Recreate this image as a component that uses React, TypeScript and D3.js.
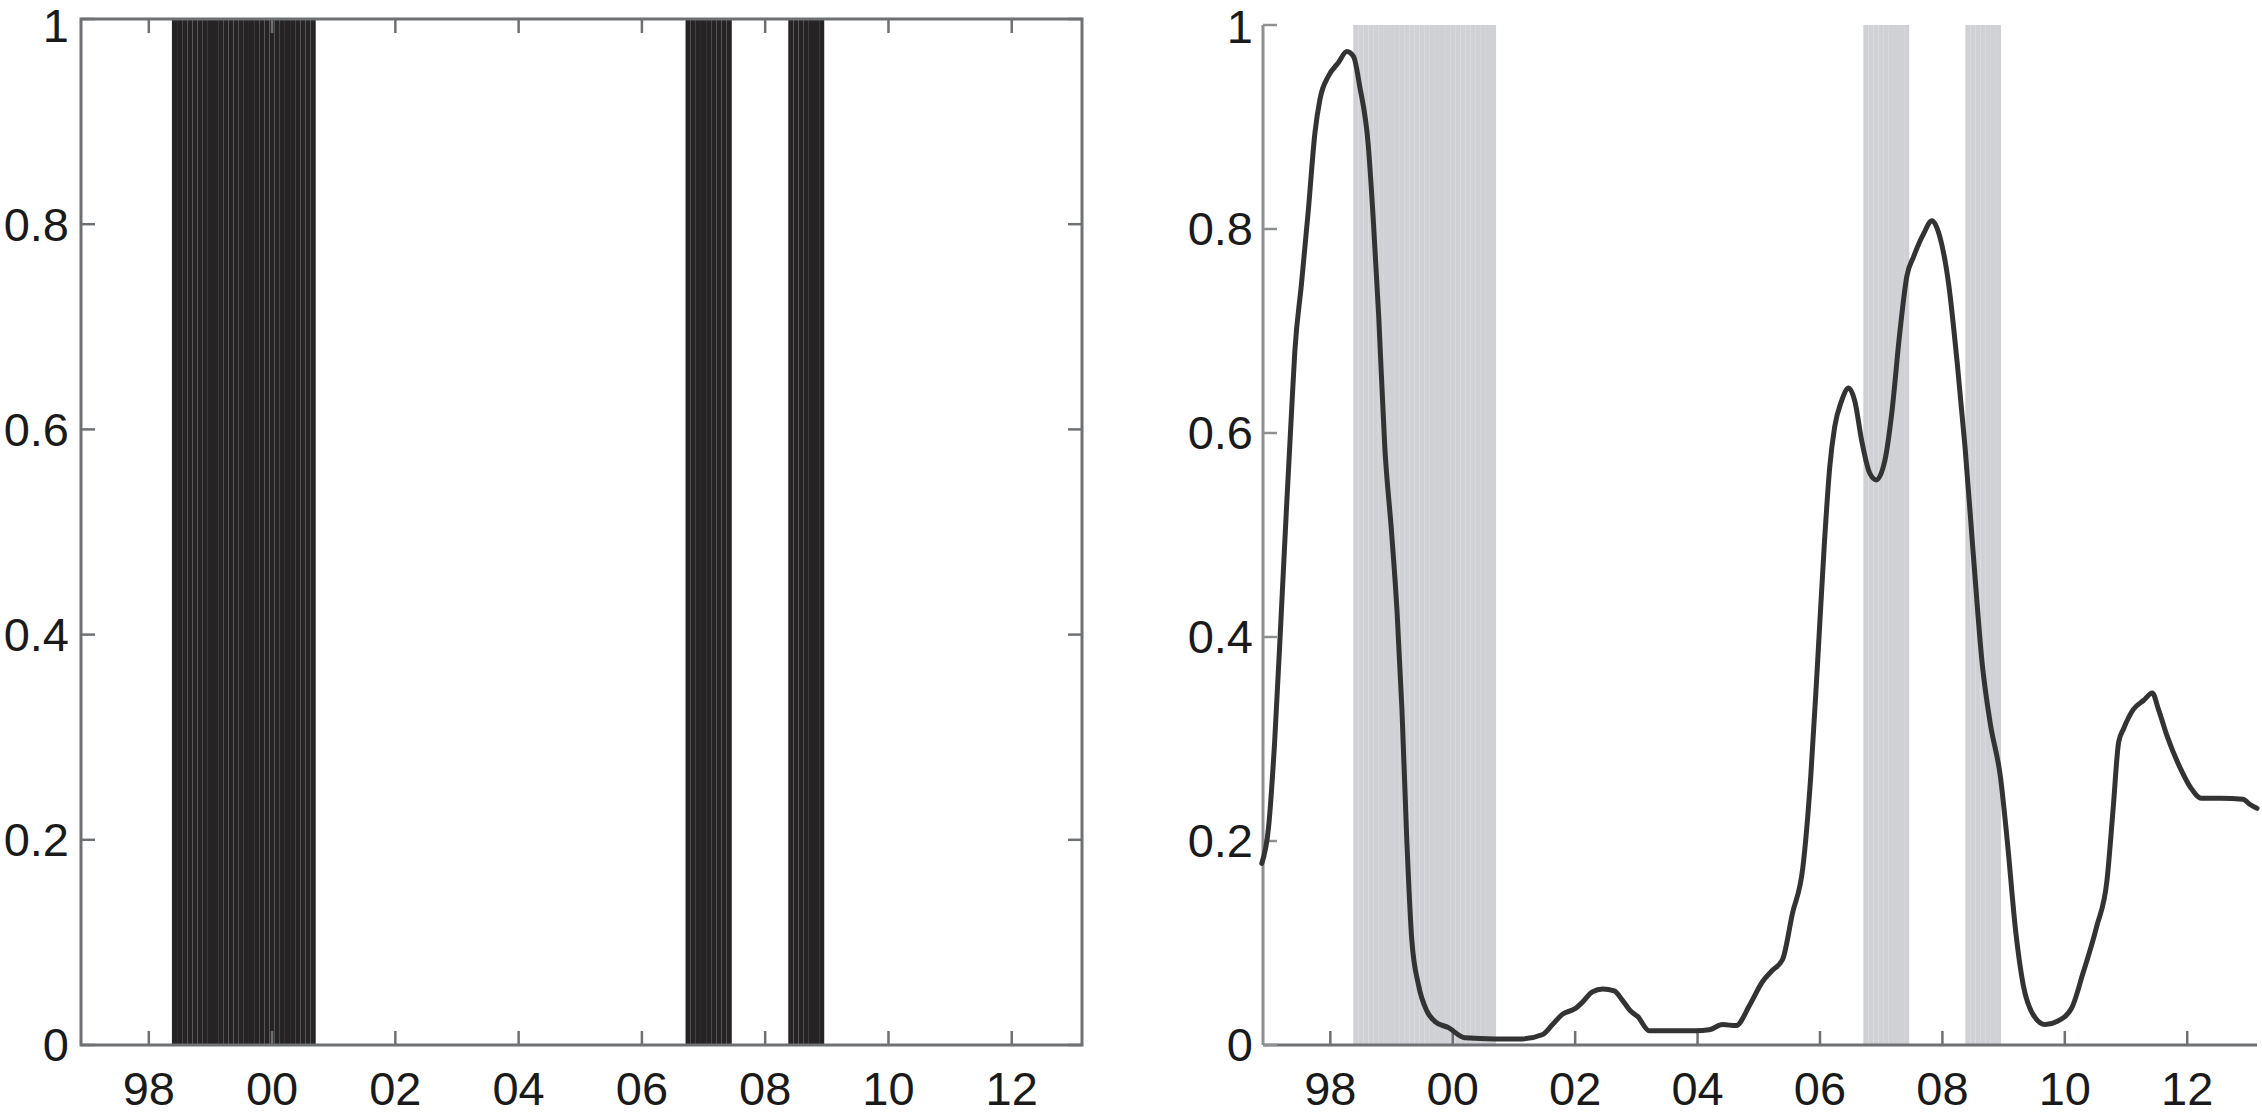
import React from "react";
import * as d3 from "d3";

// ---- data ----
const xTickYears = [1998, 2000, 2002, 2004, 2006, 2008, 2010, 2012];
const xTickLabels = ["98", "00", "02", "04", "06", "08", "10", "12"];
const yTickValues = [0, 0.2, 0.4, 0.6, 0.8, 1];
const yTickLabels = ["0", "0.2", "0.4", "0.6", "0.8", "1"];

// regime (indicator = 1) periods, in fractional years
const regimeStart = [1998.375, 2006.708, 2008.375];
const regimeEnd = [2000.708, 2007.458, 2008.958];

// smoothed probability series
const probYears = [
  1996.88, 1996.99, 1997.09, 1997.2, 1997.28, 1997.37, 1997.42, 1997.53, 1997.64, 1997.75,
  1997.83, 1997.97, 1998.13, 1998.27, 1998.38, 1998.48, 1998.62, 1998.7, 1998.79, 1998.89,
  1999.0, 1999.09, 1999.17, 1999.25, 1999.33, 1999.44, 1999.58, 1999.71, 1999.93, 2000.2,
  2000.69, 2001.13, 2001.46, 2001.63, 2001.79, 2002.01, 2002.12, 2002.28, 2002.45, 2002.64,
  2002.77, 2002.91, 2003.02, 2003.21, 2003.54, 2003.97, 2004.19, 2004.41, 2004.63, 2004.85,
  2005.06, 2005.22, 2005.39, 2005.55, 2005.72, 2005.85, 2005.96, 2006.07, 2006.16, 2006.24,
  2006.35, 2006.47, 2006.57, 2006.68, 2006.81, 2006.92, 2007.06, 2007.17, 2007.3, 2007.42,
  2007.53, 2007.69, 2007.83, 2007.96, 2008.1, 2008.24, 2008.37, 2008.51, 2008.65, 2008.78,
  2008.95, 2009.06, 2009.2, 2009.32, 2009.48, 2009.68, 2009.87, 2010.11, 2010.3, 2010.52,
  2010.69, 2010.79, 2010.88, 2010.96, 2011.12, 2011.29, 2011.43, 2011.53, 2011.67, 2011.89,
  2012.06, 2012.23, 2012.55, 2012.91, 2013.02, 2013.14,
];
const probValues = [
  0.178, 0.213, 0.297, 0.425, 0.522, 0.625, 0.68, 0.747, 0.818, 0.895,
  0.927, 0.95, 0.963, 0.974, 0.969, 0.94, 0.882, 0.811, 0.715, 0.586,
  0.503, 0.425, 0.329, 0.2, 0.104, 0.059, 0.033, 0.023, 0.017, 0.007,
  0.006, 0.006, 0.01, 0.02, 0.03, 0.036, 0.042, 0.052, 0.055, 0.053,
  0.044, 0.033, 0.028, 0.014, 0.014, 0.014, 0.015, 0.02, 0.019, 0.039,
  0.062, 0.073, 0.084, 0.129, 0.174, 0.264, 0.374, 0.49, 0.567, 0.606,
  0.631, 0.644, 0.631, 0.593, 0.561, 0.554, 0.573, 0.618, 0.696, 0.754,
  0.773, 0.795, 0.808, 0.792, 0.747, 0.67, 0.586, 0.477, 0.374, 0.316,
  0.262, 0.2, 0.11, 0.059, 0.03, 0.02, 0.023, 0.036, 0.071, 0.116,
  0.162, 0.232, 0.297, 0.31, 0.329, 0.338, 0.345, 0.329, 0.303, 0.271,
  0.252, 0.242, 0.242, 0.241, 0.236, 0.232,
];

const xDomain: [number, number] = [1996.9, 2013.14];
const FONT = "'Liberation Sans', Arial, Helvetica, sans-serif";
const FS = 47;
const TICK = 14;

type Panel = { x0: number; x1: number; y0: number; y1: number };

function monthsOf(s: number, e: number) {
  const out: [number, number][] = [];
  const step = 1 / 12;
  for (let t = s; t < e - 1e-6; t += step) out.push([t, Math.min(t + step, e)]);
  return out;
}

function Bands({ p, fill }: { p: Panel; fill: string }) {
  const x = d3.scaleLinear().domain(xDomain).range([p.x0, p.x1]);
  const y = d3.scaleLinear().domain([0, 1]).range([p.y1, p.y0]);
  const rects: JSX.Element[] = [];
  regimeStart.forEach((s, i) => {
    monthsOf(s, regimeEnd[i]).forEach(([a, b], j) => {
      rects.push(
        <rect
          key={`${i}-${j}`}
          x={x(a)}
          width={x(b) - x(a)}
          y={y(1)}
          height={y(0) - y(1)}
          fill={fill}
        />
      );
    });
  });
  return <g>{rects}</g>;
}

function YLabels({ p, anchorX, minCenter }: { p: Panel; anchorX: number; minCenter: number }) {
  const y = d3.scaleLinear().domain([0, 1]).range([p.y1, p.y0]);
  return (
    <g>
      {yTickValues.map((v, i) => (
        <text
          key={i}
          x={anchorX}
          y={Math.max(y(v), minCenter)}
          dy="0.35em"
          textAnchor="end"
          fontFamily={FONT}
          fontSize={FS}
          fill="#1a1a1a"
        >
          {yTickLabels[i]}
        </text>
      ))}
    </g>
  );
}

function XLabels({ p, baseline }: { p: Panel; baseline: number }) {
  const x = d3.scaleLinear().domain(xDomain).range([p.x0, p.x1]);
  return (
    <g>
      {xTickYears.map((yr, i) => (
        <text
          key={i}
          x={x(yr)}
          y={baseline}
          textAnchor="middle"
          fontFamily={FONT}
          fontSize={FS}
          fill="#1a1a1a"
        >
          {xTickLabels[i]}
        </text>
      ))}
    </g>
  );
}

export default function App() {
  const L: Panel = { x0: 81, x1: 1082, y0: 19, y1: 1045 };
  const R: Panel = { x0: 1263, x1: 2257, y0: 25, y1: 1045 };

  const xL = d3.scaleLinear().domain(xDomain).range([L.x0, L.x1]);
  const yL = d3.scaleLinear().domain([0, 1]).range([L.y1, L.y0]);
  const xR = d3.scaleLinear().domain(xDomain).range([R.x0, R.x1]);
  const yR = d3.scaleLinear().domain([0, 1]).range([R.y1, R.y0]);

  const pts = probYears.map((t, i) => [t, probValues[i]] as [number, number]);
  const line = d3
    .line<[number, number]>()
    .x((d) => xR(d[0]))
    .y((d) => yR(d[1]))
    .curve(d3.curveMonotoneX);

  const axisColor = "#6e7174";
  const axisColorLight = "#8e9092";

  return (
    <svg
      width={2262}
      height={1116}
      style={{ position: "absolute", left: 0, top: 0, background: "#fff" }}
    >
      <rect x={0} y={0} width={2262} height={1116} fill="#fff" />

      {/* Left panel */}
      <Bands p={L} fill="#252323" />
      <g stroke={axisColor} strokeWidth={2.5} fill="none">
        <rect x={L.x0} y={L.y0} width={L.x1 - L.x0} height={L.y1 - L.y0} strokeWidth={3} />
        {xTickYears.map((yr, i) => (
          <g key={i}>
            <line x1={xL(yr)} x2={xL(yr)} y1={L.y1} y2={L.y1 - TICK} />
            <line x1={xL(yr)} x2={xL(yr)} y1={L.y0} y2={L.y0 + TICK} />
          </g>
        ))}
        {yTickValues.map((v, i) => (
          <g key={i}>
            <line x1={L.x0} x2={L.x0 + TICK} y1={yL(v)} y2={yL(v)} />
            <line x1={L.x1} x2={L.x1 - TICK} y1={yL(v)} y2={yL(v)} />
          </g>
        ))}
      </g>
      <YLabels p={L} anchorX={69} minCenter={26} />
      <XLabels p={L} baseline={1105} />

      {/* Right panel */}
      <Bands p={R} fill="#cfd1d4" />
      <g fill="none" strokeWidth={2.5}>
        <line x1={R.x0} x2={R.x0} y1={R.y0} y2={R.y1} stroke={axisColorLight} strokeWidth={3} />
        <line x1={R.x0} x2={R.x1} y1={R.y1} y2={R.y1} stroke={axisColor} strokeWidth={3} />
        {xTickYears.map((yr, i) => (
          <line key={i} x1={xR(yr)} x2={xR(yr)} y1={R.y1} y2={R.y1 - TICK} stroke={axisColor} />
        ))}
        {yTickValues.map((v, i) => (
          <line key={i} x1={R.x0} x2={R.x0 + TICK} y1={yR(v)} y2={yR(v)} stroke={axisColorLight} />
        ))}
      </g>
      <path d={line(pts) || ""} fill="none" stroke="#333333" strokeWidth={5} strokeLinejoin="round" strokeLinecap="round" />
      <YLabels p={R} anchorX={1253} minCenter={27} />
      <XLabels p={R} baseline={1105} />
    </svg>
  );
}
